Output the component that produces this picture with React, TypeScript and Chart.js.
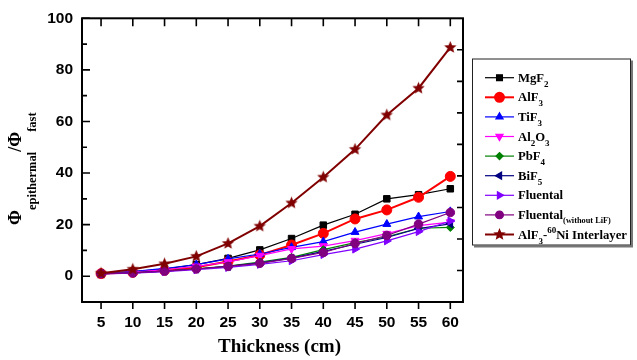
import React, { useEffect, useRef } from 'react';
import { Chart, registerables } from 'chart.js';
import { drawPoint } from 'chart.js/helpers';

Chart.register(...registerables);

// ---------- data ----------
const thickness = [5, 10, 15, 20, 25, 30, 35, 40, 45, 50, 55, 60];
const xTickValues = [5, 10, 15, 20, 25, 30, 35, 40, 45, 50, 55, 60];
const yTickValues = [0, 20, 40, 60, 80, 100];
const yMinorTickValues = [10, 30, 50, 70, 90];
const rightTickValues = [1, 2, 3, 4, 5, 6, 7, 8];

const mgf2 = [1.0, 1.8, 2.8, 4.5, 6.9, 10.2, 14.6, 19.8, 24.0, 30.0, 31.6, 33.9];
const alf3 = [1.0, 1.5, 2.3, 3.5, 5.7, 8.2, 12.1, 16.6, 22.2, 25.7, 30.6, 38.7];
const tif3 = [1.0, 1.8, 3.0, 4.5, 6.7, 8.6, 11.2, 13.4, 17.1, 20.2, 23.1, 25.1];
const al2o3 = [1.0, 1.6, 2.5, 3.8, 5.5, 8.0, 10.6, 11.7, 13.8, 16.5, 19.6, 21.0];
const pbf4 = [1.0, 1.3, 2.0, 2.9, 3.9, 5.5, 7.3, 10.3, 13.0, 15.3, 18.6, 18.9];
const bif5 = [1.0, 1.3, 2.0, 2.8, 3.8, 5.2, 7.0, 9.6, 12.4, 15.0, 18.5, 20.3];
const fluental = [0.9, 1.2, 1.8, 2.5, 3.4, 4.6, 6.0, 8.4, 10.5, 13.7, 17.3, 21.4];
const fluentalNoLiF = [1.0, 1.3, 2.0, 2.8, 3.8, 5.0, 6.9, 9.2, 12.7, 15.8, 20.2, 24.7];
const alf3Ni = [1.15, 2.7, 4.8, 7.7, 12.7, 19.4, 28.4, 38.4, 49.2, 62.5, 72.9, 88.7];

const seriesNames = ['MgF2', 'AlF3', 'TiF3', 'Al2O3', 'PbF4', 'BiF5', 'Fluental', 'Fluental(without LiF)', 'AlF3-60Ni Interlayer'];
const seriesValues = [mgf2, alf3, tif3, al2o3, pbf4, bif5, fluental, fluentalNoLiF, alf3Ni];
const seriesColors = ['#000000', '#ff0000', '#0000ff', '#ff00ff', '#008000', '#000080', '#8000ff', '#800080', '#800000'];

type Seg = { t: string; k: 'n' | 'sub' | 'sup' | 'small' };
const legendLabels: Seg[][] = [
  [{ t: 'MgF', k: 'n' }, { t: '2', k: 'sub' }],
  [{ t: 'AlF', k: 'n' }, { t: '3', k: 'sub' }],
  [{ t: 'TiF', k: 'n' }, { t: '3', k: 'sub' }],
  [{ t: 'Al', k: 'n' }, { t: '2', k: 'sub' }, { t: 'O', k: 'n' }, { t: '3', k: 'sub' }],
  [{ t: 'PbF', k: 'n' }, { t: '4', k: 'sub' }],
  [{ t: 'BiF', k: 'n' }, { t: '5', k: 'sub' }],
  [{ t: 'Fluental', k: 'n' }],
  [{ t: 'Fluental', k: 'n' }, { t: '(without LiF)', k: 'small' }],
  [{ t: 'AlF', k: 'n' }, { t: '3', k: 'sub' }, { t: '-', k: 'n' }, { t: '60', k: 'sup' }, { t: 'Ni Interlayer', k: 'n' }],
];
const yTitle: Seg[] = [
  { t: 'Φ', k: 'n' }, { t: 'epithermal', k: 'sub' }, { t: '/Φ', k: 'n' }, { t: 'fast', k: 'sub' },
];
const xTitle = 'Thickness (cm)';

// ---------- helpers ----------
function makeStar(color: string, r: number) {
  const c = document.createElement('canvas');
  const s = Math.ceil(r * 2 + 2);
  c.width = s;
  c.height = s;
  const g = c.getContext('2d')!;
  g.fillStyle = color;
  g.beginPath();
  for (let i = 0; i < 10; i++) {
    const rad = i % 2 === 0 ? r : r * 0.45;
    const a = -Math.PI / 2 + (i * Math.PI) / 5;
    g.lineTo(s / 2 + rad * Math.cos(a), s / 2 + rad * Math.sin(a));
  }
  g.closePath();
  g.fill();
  return c;
}

type FontSet = { n: string; sub: string; sup: string; small: string; subOff: number; supOff: number; smallOff: number };

function drawRich(ctx: CanvasRenderingContext2D, segs: Seg[], x: number, y: number, f: FontSet) {
  let cx = x;
  for (const s of segs) {
    let off = 0;
    if (s.k === 'n') ctx.font = f.n;
    else if (s.k === 'sub') { ctx.font = f.sub; off = f.subOff; }
    else if (s.k === 'sup') { ctx.font = f.sup; off = f.supOff; }
    else { ctx.font = f.small; off = f.smallOff; }
    ctx.fillText(s.t, cx, y + off);
    cx += ctx.measureText(s.t).width;
  }
  return cx - x;
}

export default function App() {
  const ref = useRef<HTMLCanvasElement | null>(null);

  useEffect(() => {
    document.body.style.margin = '0';
    const star = makeStar('#800000', 6.5);
    const styles: any[] = ['rect', 'circle', 'triangle', 'triangle', 'rectRot', 'triangle', 'triangle', 'circle', star];
    const rotations = [0, 0, 0, 180, 0, -90, 90, 0, 0];
    const radii = [4.6, 5, 4.6, 4.6, 4, 4.6, 4.6, 4.3, 6.5];
    const widths = [1.2, 2, 1.2, 1.2, 1.2, 1.2, 1.2, 1.2, 2];

    const datasets = seriesNames.map((name, i) => ({
      label: name,
      data: thickness.map((t, j) => ({ x: t, y: seriesValues[i][j] })),
      borderColor: seriesColors[i],
      backgroundColor: seriesColors[i],
      pointBackgroundColor: seriesColors[i],
      pointBorderColor: seriesColors[i],
      pointStyle: styles[i],
      pointRotation: rotations[i],
      pointRadius: radii[i],
      pointBorderWidth: 1,
      borderWidth: widths[i],
      tension: 0,
      order: seriesNames.length - i,
      yAxisID: 'y',
    }));

    const decor = {
      id: 'decor',
      afterDraw(chart: any) {
        const { ctx, chartArea: a, scales } = chart;
        const xs = scales.x, ys = scales.y, y2 = scales.y2;
        ctx.save();
        // frame
        ctx.strokeStyle = '#000';
        ctx.lineWidth = 2;
        ctx.strokeRect(a.left, a.top, a.right - a.left, a.bottom - a.top);
        // ticks
        ctx.lineWidth = 1.6;
        ctx.beginPath();
        xTickValues.forEach((v) => {
          const px = xs.getPixelForValue(v);
          ctx.moveTo(px, a.top); ctx.lineTo(px, a.top + 8);
          ctx.moveTo(px, a.bottom); ctx.lineTo(px, a.bottom + 7);
        });
        yTickValues.forEach((v) => {
          const py = ys.getPixelForValue(v);
          ctx.moveTo(a.left, py); ctx.lineTo(a.left + 8, py);
        });
        yMinorTickValues.forEach((v) => {
          const py = ys.getPixelForValue(v);
          ctx.moveTo(a.left, py); ctx.lineTo(a.left + 5, py);
        });
        rightTickValues.forEach((v) => {
          const py = y2.getPixelForValue(v);
          ctx.moveTo(a.right, py); ctx.lineTo(a.right - 6, py);
        });
        ctx.stroke();

        // x title
        ctx.fillStyle = '#000';
        ctx.font = 'bold 19px "Liberation Serif"';
        ctx.textAlign = 'center';
        ctx.textBaseline = 'alphabetic';
        ctx.fillText(xTitle, (a.left + a.right) / 2 + 7, 352);

        // y title
        ctx.save();
        ctx.translate(21, 225);
        ctx.rotate(-Math.PI / 2);
        ctx.textAlign = 'left';
        drawRich(ctx, yTitle, 0, 0, {
          n: 'bold 18px "Liberation Serif"', sub: 'bold 12.5px "Liberation Serif"', sup: 'bold 12.5px "Liberation Serif"',
          small: 'bold 12.5px "Liberation Serif"', subOff: 15, supOff: -8, smallOff: 15,
        });
        ctx.restore();

        // legend
        const lx = 472, ly = 58.5, lw = 159, lh = 187;
        ctx.fillStyle = '#777';
        ctx.fillRect(lx + 2, ly + 2, lw, lh);
        ctx.fillStyle = '#fff';
        ctx.fillRect(lx, ly, lw, lh);
        ctx.lineWidth = 1;
        ctx.strokeStyle = '#222';
        ctx.strokeRect(lx + 0.5, ly + 0.5, lw - 1, lh - 1);
        ctx.textAlign = 'left';
        ctx.textBaseline = 'alphabetic';
        legendLabels.forEach((segs, i) => {
          const ry = 77.7 + i * 19.6;
          const col = seriesColors[i];
          ctx.strokeStyle = col;
          ctx.lineWidth = widths[i];
          ctx.beginPath();
          ctx.moveTo(485, ry);
          ctx.lineTo(514, ry);
          ctx.stroke();
          ctx.fillStyle = col;
          ctx.strokeStyle = col;
          drawPoint(ctx, { pointStyle: styles[i], rotation: rotations[i], radius: radii[i] * 0.9, borderWidth: 1 } as any, 499.5, ry);
          ctx.fillStyle = '#000';
          drawRich(ctx, segs, 518, ry + 4, {
            n: 'bold 12.7px "Liberation Serif"', sub: 'bold 9px "Liberation Serif"', sup: 'bold 9px "Liberation Serif"',
            small: 'bold 8.3px "Liberation Serif"', subOff: 5, supOff: -6, smallOff: 4,
          });
        });
        ctx.restore();
      },
    };

    const chart = new Chart(ref.current!, {
      type: 'line',
      data: { datasets: datasets as any },
      options: {
        animation: false,
        responsive: false,
        devicePixelRatio: 1,
        layout: { padding: { left: 0, top: 16, right: 174, bottom: 0 } },
        plugins: { legend: { display: false }, tooltip: { enabled: false } },
        scales: {
          x: {
            type: 'linear',
            min: 2,
            max: 62,
            afterBuildTicks: (ax: any) => { ax.ticks = xTickValues.map((v) => ({ value: v })); },
            afterFit: (ax: any) => { ax.height = 58; },
            grid: { display: false, drawTicks: false },
            border: { display: false },
            ticks: { color: '#000', padding: 11, maxRotation: 0, autoSkip: false, font: { family: '"Liberation Sans"', size: 15.5, weight: 'bold' } },
          },
          y: {
            type: 'linear',
            min: -10,
            max: 100,
            afterBuildTicks: (ax: any) => { ax.ticks = yTickValues.map((v) => ({ value: v })); },
            afterFit: (ax: any) => { ax.width = 82; },
            grid: { display: false, drawTicks: false },
            border: { display: false },
            ticks: { color: '#000', padding: 9, font: { family: '"Liberation Sans"', size: 15.5, weight: 'bold' } },
          },
          y2: {
            type: 'linear',
            position: 'right',
            min: 0,
            max: 9,
            afterFit: (ax: any) => { ax.width = 0; },
            grid: { display: false, drawTicks: false },
            border: { display: false },
            ticks: { display: false },
          },
        },
      } as any,
      plugins: [decor],
    });
    return () => chart.destroy();
  }, []);

  return (
    <div style={{ position: 'fixed', left: 0, top: 0, width: 637, height: 360, background: '#fff' }}>
      <canvas ref={ref} width={637} height={360} style={{ width: 637, height: 360 }} />
    </div>
  );
}
